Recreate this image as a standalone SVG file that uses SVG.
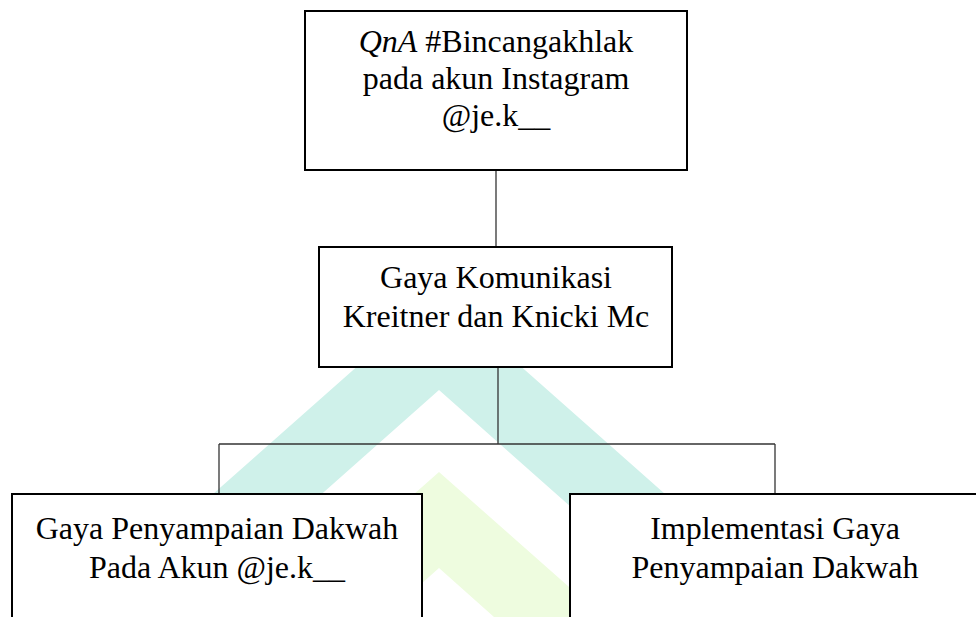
<svg xmlns="http://www.w3.org/2000/svg" width="976" height="617" viewBox="0 0 976 617">
<style>
.bg{fill:#ffffff}
.node rect{fill:#ffffff;stroke:#000000;stroke-width:2}
.node text{font-family:"Liberation Serif","Times New Roman",serif;font-size:32px;fill:#000000;text-anchor:middle}
.conn line{stroke:#333333;stroke-width:1.3;fill:none}
.wm-teal{fill:#cff1ea}
.wm-green{fill:#eefcdf}
</style>
<rect class="bg" x="0" y="0" width="976" height="617"/>
<g id="watermark">
<polygon class="wm-teal" points="439,294 804,617 695,617 439,390 183,617 74,617"/>
<polygon class="wm-green" points="439,472 603,617 494,617 439,568 384,617 275,617"/>
</g>
<g id="node-top" class="node">
<rect x="305" y="11" width="382" height="159"/>
<text x="496" y="52"><tspan font-style="italic">QnA</tspan> #Bincangakhlak</text>
<text x="496" y="89">pada akun Instagram</text>
<text x="496" y="126">@je.k__</text>
</g>
<g id="node-middle" class="node">
<rect x="319" y="247" width="353" height="120"/>
<text x="496" y="288">Gaya Komunikasi</text>
<text x="496" y="327">Kreitner dan Knicki Mc</text>
</g>
<g id="node-left" class="node">
<rect x="12" y="494" width="410" height="140"/>
<text x="217" y="539">Gaya Penyampaian Dakwah</text>
<text x="217" y="578">Pada Akun @je.k__</text>
</g>
<g id="node-right" class="node">
<rect x="570" y="494" width="430" height="140"/>
<text x="775" y="539">Implementasi Gaya</text>
<text x="775" y="578">Penyampaian Dakwah</text>
</g>
<g id="connectors" class="conn">
<line x1="496" y1="171" x2="496" y2="246"/>
<line x1="498" y1="368" x2="498" y2="444"/>
<line x1="219" y1="444" x2="775" y2="444"/>
<line x1="219" y1="444" x2="219" y2="493"/>
<line x1="775" y1="444" x2="775" y2="493"/>
</g>
</svg>
